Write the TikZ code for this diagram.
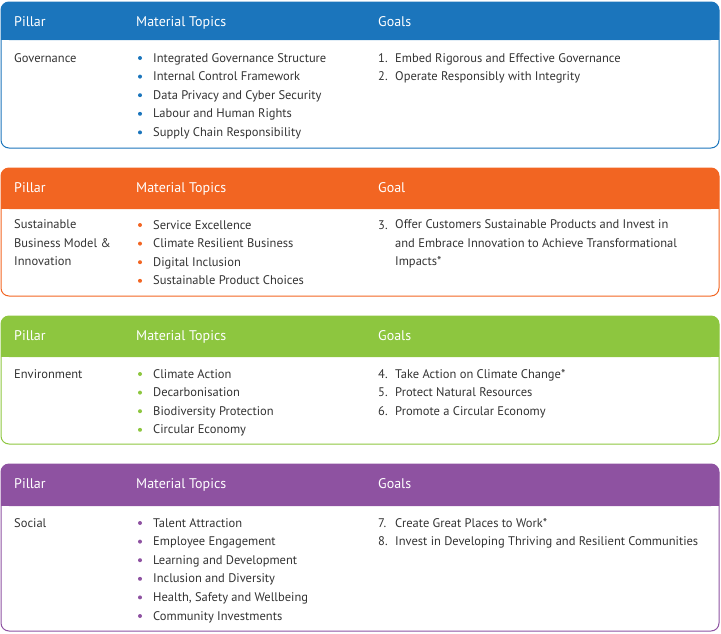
\documentclass[tikz,border=0pt]{standalone}
\usepackage{fontspec}
\setmainfont{PT Sans}
\definecolor{gblue}{HTML}{1B75BC}
\definecolor{gorange}{HTML}{F26522}
\definecolor{ggreen}{HTML}{8DC63F}
\definecolor{gpurple}{HTML}{8E52A1}
\definecolor{gtext}{HTML}{333333}

\begin{document}
\begin{tikzpicture}[x=1pt,y=-1pt]
        % Setup the styles
        \tikzset{head text/.style={anchor=base west, inner sep=0pt, text=white, font=\fontsize{14}{16}\selectfont}}
        \tikzset{body text/.style={anchor=base west, inner sep=0pt, text=gtext, font=\fontsize{12.5}{18.6}\selectfont}}
        \newcommand{\panelbox}[5]{%
          \fill[#1, rounded corners=8pt] (1,#2) rectangle (719,#3);
          \fill[#1] (1,{#3-10}) rectangle (719,#3);
          \draw[#1, line width=1pt, rounded corners=8pt] (1,#2) rectangle (719,#4);
          \node[head text] at (14,{#2+24}) {Pillar};
          \node[head text] at (136,{#2+24}) {Material Topics};
          \node[head text] at (378,{#2+24}) {#5};
        }
        \newcommand{\bulletitem}[3]{%
          \pgfmathsetmacro{\yy}{#2}
          \fill[#1] (140,\yy-4) circle (2pt);
          \node[body text] at (153,\yy) {#3};
        }
        \useasboundingbox (0,0) rectangle (721,633);

        % Governance
        \panelbox{gblue}{2}{40}{148}{Goals}
        \node[body text] (gov) at (14,62) {Governance};
        \foreach \t [count=\i] in {Integrated Governance Structure,Internal Control Framework,Data Privacy and Cyber Security,Labour and Human Rights,Supply Chain Responsibility}
          {\bulletitem{gblue}{62+18.6*(\i-1)}{\t}}
        \node[body text] at (378,62) {1.};
        \node[body text] at (395,62) {Embed Rigorous and Effective Governance};
        \node[body text] at (378,80.6) {2.};
        \node[body text] at (395,80.6) {Operate Responsibly with Integrity};

        % Sustainable Business Model
        \panelbox{gorange}{168}{209}{296}{Goal}
        \node[body text, align=left, anchor=north west] (sbm) at (14,219.5) {Sustainable\\Business Model \&\\Innovation};
        \foreach \t [count=\i] in {Service Excellence,Climate Resilient Business,Digital Inclusion,Sustainable Product Choices}
          {\bulletitem{gorange}{229+18.6*(\i-1)}{\t}}
        \node[body text] at (378,229) {3.};
        \node[body text, align=left, anchor=north west] at (395,219.5) {Offer Customers Sustainable Products and Invest in\\and Embrace Innovation to Achieve Transformational\\Impacts*};

        % Environment
        \panelbox{ggreen}{316}{357}{444}{Goals}
        \node[body text] (env) at (14,378) {Environment};
        \foreach \t [count=\i] in {Climate Action,Decarbonisation,Biodiversity Protection,Circular Economy}
          {\bulletitem{ggreen}{378+18.6*(\i-1)}{\t}}
        \foreach \n/\t [count=\i] in {4./Take Action on Climate Change*,5./Protect Natural Resources,6./Promote a Circular Economy}
          {\pgfmathsetmacro{\yy}{378+18.6*(\i-1)}
           \node[body text] at (378,\yy) {\n};
           \node[body text] at (395,\yy) {\t};}

        % Social
        \panelbox{gpurple}{464}{506}{631}{Goals}
        \node[body text] (soc) at (14,527) {Social};
        \foreach \t [count=\i] in {Talent Attraction,Employee Engagement,Learning and Development,Inclusion and Diversity,{Health, Safety and Wellbeing},Community Investments}
          {\bulletitem{gpurple}{527+18.6*(\i-1)}{\t}}
        \node[body text] at (378,527) {7.};
        \node[body text] at (395,527) {Create Great Places to Work*};
        \node[body text] at (378,545.6) {8.};
        \node[body text] at (395,545.6) {Invest in Developing Thriving and Resilient Communities};
\end{tikzpicture}
\end{document}
